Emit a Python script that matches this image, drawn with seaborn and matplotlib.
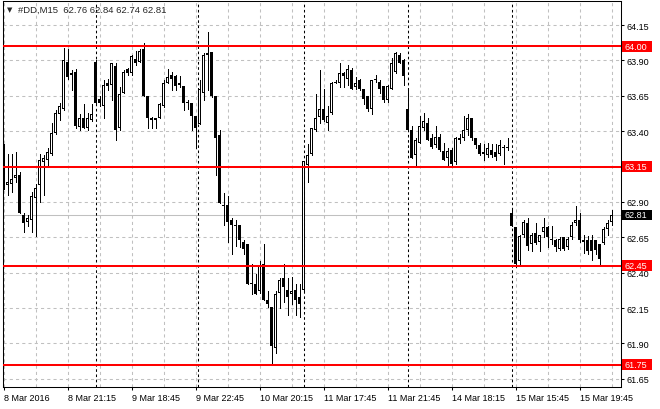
import matplotlib
matplotlib.use("Agg")
import matplotlib.pyplot as plt
import matplotlib.patches as mpatches
import numpy as np
import pandas as pd
import seaborn as sns

# M15 bars (#DD, 8-15 Mar 2016)
opens = [
    63.27, 63.02, 63.03, 63.07, 63.09, 62.81, 62.76, 62.77, 62.93, 63.02,
    63.18, 63.20, 63.24, 63.39, 63.52, 63.56, 63.89, 63.80, 63.82, 63.43,
    63.49, 63.42, 63.48, 63.89, 63.63, 63.58, 63.74, 63.73, 63.86, 63.42,
    63.67, 63.84, 63.81, 63.91, 63.89, 63.98, 63.65, 63.49, 63.48, 63.49,
    63.58, 63.74, 63.80, 63.79, 63.74, 63.72, 63.61, 63.60, 63.51, 63.45,
    63.67, 63.94, 63.96, 63.65, 63.37, 62.88, 62.88, 62.77, 62.74, 62.74,
    62.62, 62.60, 62.33, 62.32, 62.27, 62.46, 62.21, 62.16, 61.87, 62.26,
    62.36, 62.28, 62.25, 62.28, 62.23, 62.28, 63.16, 63.24, 63.41, 63.50,
    63.56, 63.46, 63.53, 63.75, 63.74, 63.81, 63.77, 63.83, 63.71, 63.76,
    63.70, 63.65, 63.56, 63.77, 63.75, 63.72, 63.62, 63.70, 63.82, 63.94,
    63.90, 63.56, 63.41, 63.23, 63.32, 63.42, 63.46, 63.35, 63.30, 63.36,
    63.26, 63.21, 63.27, 63.18, 63.35, 63.35, 63.41, 63.49, 63.35, 63.30,
    63.25, 63.23, 63.27, 63.25, 63.24, 63.29, 63.28, 62.82, 62.72, 62.48,
    62.67, 62.75, 62.60, 62.68, 62.62, 62.69, 62.72, 62.64, 62.63, 62.57,
    62.65, 62.58, 62.65, 62.75, 62.77, 62.63, 62.63, 62.63, 62.63, 62.60,
    62.61, 62.71, 62.76,
]
highs = [
    63.31, 63.24, 63.24, 63.25, 63.11, 62.82, 62.81, 62.97, 63.03, 63.24,
    63.23, 63.28, 63.46, 63.55, 63.60, 63.99, 63.98, 63.83, 63.84, 63.52,
    63.59, 63.53, 63.59, 63.90, 63.65, 63.76, 63.77, 63.88, 63.88, 63.71,
    63.83, 63.85, 63.94, 63.97, 63.98, 64.02, 63.65, 63.50, 63.49, 63.60,
    63.76, 63.84, 63.82, 63.80, 63.79, 63.72, 63.62, 63.60, 63.51, 63.76,
    63.95, 64.10, 63.96, 63.65, 63.41, 62.96, 62.94, 62.79, 62.77, 62.74,
    62.63, 62.60, 62.46, 62.39, 62.48, 62.60, 62.27, 62.16, 62.27, 62.36,
    62.46, 62.36, 62.37, 62.32, 62.32, 63.19, 63.31, 63.42, 63.66, 63.83,
    63.70, 63.58, 63.75, 63.76, 63.88, 63.82, 63.87, 63.85, 63.78, 63.77,
    63.70, 63.65, 63.76, 63.80, 63.76, 63.72, 63.73, 63.92, 63.96, 63.95,
    63.91, 63.70, 63.44, 63.35, 63.51, 63.53, 63.49, 63.38, 63.44, 63.38,
    63.32, 63.28, 63.28, 63.36, 63.38, 63.51, 63.52, 63.49, 63.35, 63.32,
    63.31, 63.32, 63.31, 63.31, 63.34, 63.30, 63.35, 62.84, 62.72, 62.67,
    62.77, 62.79, 62.68, 62.75, 62.67, 62.79, 62.73, 62.73, 62.64, 62.65,
    62.65, 62.65, 62.76, 62.87, 62.82, 62.67, 62.66, 62.67, 62.63, 62.60,
    62.72, 62.77, 62.84,
]
lows = [
    62.99, 62.95, 62.97, 63.04, 62.82, 62.69, 62.73, 62.69, 62.66, 62.90,
    62.95, 63.16, 63.23, 63.38, 63.48, 63.55, 63.77, 63.69, 63.42, 63.41,
    63.42, 63.41, 63.47, 63.60, 63.58, 63.49, 63.69, 63.62, 63.34, 63.41,
    63.67, 63.80, 63.80, 63.87, 63.89, 63.65, 63.42, 63.42, 63.42, 63.49,
    63.57, 63.74, 63.69, 63.69, 63.71, 63.55, 63.56, 63.41, 63.28, 63.45,
    63.62, 63.69, 63.64, 63.09, 62.89, 62.74, 62.62, 62.53, 62.59, 62.58,
    62.53, 62.32, 62.25, 62.25, 62.26, 62.21, 62.16, 61.76, 61.83, 62.15,
    62.19, 62.10, 62.18, 62.10, 62.09, 62.27, 63.04, 63.23, 63.40, 63.46,
    63.47, 63.41, 63.52, 63.74, 63.71, 63.71, 63.73, 63.70, 63.70, 63.69,
    63.59, 63.54, 63.52, 63.75, 63.67, 63.61, 63.61, 63.70, 63.81, 63.88,
    63.73, 63.41, 63.21, 63.16, 63.32, 63.41, 63.34, 63.28, 63.29, 63.26,
    63.20, 63.16, 63.16, 63.17, 63.32, 63.34, 63.37, 63.34, 63.28, 63.23,
    63.20, 63.22, 63.22, 63.20, 63.23, 63.17, 63.27, 62.73, 62.44, 62.45,
    62.65, 62.56, 62.55, 62.60, 62.55, 62.65, 62.58, 62.60, 62.55, 62.56,
    62.56, 62.57, 62.64, 62.74, 62.62, 62.54, 62.53, 62.49, 62.53, 62.46,
    62.60, 62.67, 62.74,
]
closes = [
    62.99, 63.04, 63.06, 63.09, 62.82, 62.75, 62.79, 62.94, 63.00, 63.20,
    63.21, 63.25, 63.39, 63.53, 63.58, 63.90, 63.78, 63.81, 63.44, 63.49,
    63.42, 63.49, 63.52, 63.60, 63.60, 63.73, 63.72, 63.88, 63.41, 63.66,
    63.82, 63.81, 63.93, 63.88, 63.97, 63.65, 63.49, 63.48, 63.49, 63.59,
    63.74, 63.78, 63.77, 63.72, 63.73, 63.60, 63.60, 63.51, 63.42, 63.70,
    63.94, 63.95, 63.65, 63.35, 62.89, 62.87, 62.76, 62.74, 62.73, 62.63,
    62.57, 62.32, 62.32, 62.25, 62.45, 62.21, 62.18, 61.88, 62.25, 62.35,
    62.30, 62.23, 62.27, 62.21, 62.18, 63.19, 63.23, 63.42, 63.49, 63.56,
    63.48, 63.51, 63.74, 63.74, 63.81, 63.79, 63.84, 63.70, 63.74, 63.70,
    63.63, 63.56, 63.76, 63.76, 63.70, 63.62, 63.72, 63.88, 63.95, 63.88,
    63.79, 63.41, 63.21, 63.34, 63.44, 63.47, 63.34, 63.29, 63.36, 63.27,
    63.20, 63.26, 63.17, 63.35, 63.34, 63.41, 63.49, 63.35, 63.30, 63.24,
    63.24, 63.28, 63.23, 63.22, 63.30, 63.28, 63.29, 62.73, 62.46, 62.66,
    62.76, 62.59, 62.67, 62.61, 62.67, 62.72, 62.65, 62.63, 62.58, 62.64,
    62.57, 62.64, 62.74, 62.77, 62.63, 62.62, 62.55, 62.55, 62.56, 62.50,
    62.71, 62.75, 62.81,
]

time_tick_bars = [0, 16, 32, 48, 64, 80, 96, 112, 128, 144]
time_tick_labels = ["8 Mar 2016", "8 Mar 21:15", "9 Mar 18:45", "9 Mar 22:45",
                    "10 Mar 20:15", "11 Mar 17:45", "11 Mar 21:45",
                    "14 Mar 18:15", "15 Mar 15:45", "15 Mar 19:45"]
day_breaks = [23, 48.5, 75, 101, 127]
price_ticks = [61.65, 61.90, 62.15, 62.40, 62.65, 62.90, 63.15, 63.40,
               63.65, 63.90, 64.15]
levels = [64.00, 63.15, 62.45, 61.75]
last_price = 62.81
symbol = "#DD,M15"

W, H = 660, 410
AX_L, AX_R, AX_T, AX_B = 3.0, 621.0, 1.7, 388.0   # pixel frame of the chart
BAR_PX = 4.0                                       # pixels per bar
Y_LIM = (61.5924, 64.3224)
px_y = (Y_LIM[1] - Y_LIM[0]) / (AX_B - AX_T)       # price per pixel

df = pd.DataFrame({"open": opens, "high": highs, "low": lows, "close": closes})
df["bar"] = np.arange(len(df))
df["bull"] = df["close"] >= df["open"]
df["body_lo"] = df[["open", "close"]].min(axis=1)
df["body_h"] = (df["close"] - df["open"]).abs().clip(lower=px_y)

sns.set_theme(style="white", rc={"axes.edgecolor": "black",
                                 "axes.linewidth": 0.75})
plt.rcParams["font.family"] = ["Liberation Sans", "DejaVu Sans"]

fig = plt.figure(figsize=(W / 100, H / 100), dpi=100)
ax = fig.add_axes([AX_L / W, 1 - AX_B / H, (AX_R - AX_L) / W,
                   (AX_B - AX_T) / H])
ax.set_facecolor("white")

x_left = -0.125
ax.set_xlim(x_left, x_left + (AX_R - AX_L) / BAR_PX)
ax.set_ylim(*Y_LIM)

# grid
ax.set_xticks(time_tick_bars)
ax.set_xticks(np.arange(0, len(df), 8), minor=True)
ax.set_xticklabels(time_tick_labels, ha="left")
ax.set_yticks(price_ticks)
# 63.15 sits entirely under its level box
ax.set_yticklabels(["" if p in levels else f"{p:.2f}" for p in price_ticks])
ax.grid(True, which="both", axis="x", color="#c0c0c0", lw=0.75,
        ls=(0, (3, 3)), zorder=0)
ax.grid(True, which="major", axis="y", color="#c0c0c0", lw=0.75,
        ls=(0, (3, 3)), zorder=0)
ax.yaxis.tick_right()
ax.tick_params(axis="both", which="major", labelsize=6.5, length=2.5,
               width=0.75, color="black", labelcolor="black")
ax.tick_params(axis="y", pad=1.5)
ax.tick_params(axis="x", pad=1.5, bottom=True)
ax.tick_params(which="minor", length=0)
for s in ax.spines.values():
    s.set_visible(True)
    s.set_color("black")
    s.set_linewidth(0.75)

# bid line
ax.axhline(last_price, color="#c0c0c0", lw=0.75, zorder=1)

# candles: wick, black body, white core for rising bars
ax.vlines(df["bar"], df["low"], df["high"], color="black", lw=0.72,
          zorder=3, antialiased=False)
ax.bar(df["bar"], df["body_h"], bottom=df["body_lo"], width=3 / BAR_PX,
       color="black", linewidth=0, zorder=4, antialiased=False)
core = df[df["bull"] & (df["body_h"] > 2.5 * px_y)]
ax.bar(core["bar"], core["body_h"] - 2 * px_y, bottom=core["body_lo"] + px_y,
       width=1 / BAR_PX, color="white", linewidth=0, zorder=5,
       antialiased=False)

# day separators
for d in day_breaks:
    ax.axvline(d, color="black", lw=0.75, ls=(0, (2.5, 2.5)), zorder=6)

# support / resistance
for lvl in levels:
    ax.axhline(lvl, color="red", lw=1.45, zorder=7)

# price labels on the right scale
to_fig = ax.transData + fig.transFigure.inverted()


def price_box(value, colour):
    yc = to_fig.transform((0, value))[1]
    box = mpatches.Rectangle((621.7 / W, yc - 5.2 / H), 30 / W, 10.4 / H,
                             transform=fig.transFigure, facecolor=colour,
                             edgecolor="none", zorder=5)
    fig.patches.append(box)
    fig.text(624.5 / W, yc, f"{value:.2f}", color="white", fontsize=6.5,
             va="center", ha="left", zorder=6)


for lvl in levels:
    price_box(lvl, "red")
price_box(last_price, "black")

# header
fig.text(7 / W, 1 - 10.5 / H, "\u25bc", fontsize=5, va="center", ha="left",
         family=["DejaVu Sans"])
fig.text(18 / W, 1 - 10.5 / H,
         f"{symbol}  {opens[-1]:.2f} {highs[-1]:.2f} {lows[-1]:.2f} {closes[-1]:.2f}",
         fontsize=6.8, va="center", ha="left")

fig.savefig("out.png", dpi=100)
